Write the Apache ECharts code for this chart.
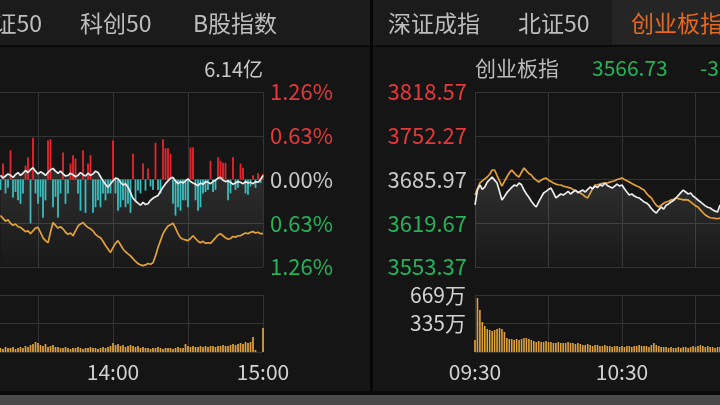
<!DOCTYPE html>
<html><head><meta charset="utf-8">
<script src="https://cdn.jsdelivr.net/npm/echarts@6/dist/echarts.min.js"></script>
<style>html,body{margin:0;padding:0;background:#151515;overflow:hidden}#c{width:720px;height:405px}</style>
</head><body><div id="c"></div>
<script>
// ---------- DATA ----------
const tabsLeft = ['上证50', '科创50', 'B股指数'];
const tabsRight = ['深证成指', '北证50', '创业板指'];
const leftTurnover = '6.14亿';
const rightName = '创业板指';
const rightPrice = '3566.73';
const rightChange = '-3.24%';
const timeTickMinutes = [0, 60, 120, 180, 240];
const timeTickLabels = ['09:30', '10:30', '11:30', '14:00', '15:00'];
const leftPctTicks = [-1.26, -0.63, 0, 0.63, 1.26];
const prevClose = 3685.97;
const rightPriceTicks = [3553.37, 3619.67, 3685.97, 3752.27, 3818.57];
const rightVolTicks = [0, 335, 669];

// left panel: minutes since 09:30 (trading minutes), starting 13:15
const leftStartMinute = 135;
const leftIndexPct = [
 0.06,0.02,0.05,0.08,0.06,0.03,0.07,0.10,0.06,0.09,
 0.13,0.10,0.14,0.17,0.12,0.08,0.11,0.09,0.06,0.10,
 0.14,0.16,0.12,0.09,0.12,0.08,0.05,0.06,0.09,0.07,
 0.04,0.06,0.10,0.07,0.05,0.09,0.06,0.08,0.12,0.10,
 0.04,-0.02,-0.07,-0.11,-0.06,-0.02,0.02,0.01,-0.04,-0.08,
 -0.06,-0.11,-0.19,-0.27,-0.31,-0.34,-0.37,-0.33,-0.36,-0.35,
 -0.30,-0.27,-0.25,-0.23,-0.17,-0.11,-0.06,-0.02,0.02,0.03,
 -0.02,-0.06,-0.03,-0.05,-0.02,0.01,-0.03,-0.05,-0.07,-0.09,
 -0.05,-0.07,-0.03,-0.04,-0.06,-0.03,-0.01,0.02,0.03,-0.01,
 -0.03,-0.02,-0.04,-0.07,-0.05,-0.03,-0.04,-0.06,-0.03,-0.05,
 -0.04,-0.06,-0.03,-0.04,0.00,0.06
];
const leftLeadPct = [
 -0.52,-0.56,-0.60,-0.58,-0.63,-0.66,-0.64,-0.68,-0.69,-0.72,
 -0.75,-0.74,-0.78,-0.74,-0.70,-0.69,-0.76,-0.84,-0.88,-0.91,
 -0.76,-0.62,-0.66,-0.70,-0.68,-0.71,-0.76,-0.79,-0.77,-0.81,
 -0.74,-0.67,-0.64,-0.62,-0.66,-0.69,-0.71,-0.74,-0.79,-0.82,
 -0.84,-0.89,-0.95,-1.00,-1.05,-0.98,-0.92,-0.88,-0.94,-1.00,
 -1.04,-1.07,-1.10,-1.14,-1.18,-1.21,-1.23,-1.24,-1.23,-1.21,
 -1.22,-1.20,-1.10,-0.98,-0.88,-0.78,-0.72,-0.67,-0.65,-0.63,
 -0.70,-0.78,-0.84,-0.86,-0.87,-0.88,-0.85,-0.81,-0.85,-0.89,
 -0.91,-0.89,-0.92,-0.91,-0.92,-0.88,-0.84,-0.80,-0.78,-0.81,
 -0.84,-0.86,-0.85,-0.82,-0.83,-0.81,-0.81,-0.79,-0.77,-0.78,
 -0.76,-0.75,-0.77,-0.76,-0.78,-0.78
];
const leftStrength = [
 -0.15,0.23,-0.20,-0.12,0.42,-0.26,-0.18,-0.30,-0.35,-0.20,
 0.20,0.32,-0.63,0.60,-0.20,-0.35,-0.25,-0.55,-0.30,0.56,
 0.58,-0.40,-0.25,-0.55,-0.20,0.39,-0.35,-0.20,0.23,0.35,
 0.30,-0.20,-0.45,0.42,-0.48,0.23,0.35,-0.48,-0.40,-0.30,
 -0.40,-0.20,-0.30,-0.20,-0.20,0.56,-0.20,-0.45,-0.40,-0.30,
 -0.40,-0.35,-0.48,0.37,-0.30,-0.16,-0.20,0.23,-0.16,0.16,
 -0.10,-0.15,0.53,-0.15,-0.20,0.58,0.45,0.45,0.37,-0.35,
 -0.52,-0.40,-0.45,-0.30,-0.30,-0.40,0.46,0.46,-0.30,-0.45,
 -0.40,-0.20,-0.18,-0.15,0.27,-0.18,-0.15,0.32,0.27,0.24,
 0.24,-0.30,-0.20,0.32,-0.15,-0.12,0.23,0.17,-0.20,-0.22,
 -0.10,0.06,-0.12,0.09,-0.05,0.08
];
const leftVolume = [
 40,30,50,40,40,50,30,40,50,40,60,50,70,80,
 100,90,
 70,60,80,50,60,70,50,
 50,40,40,50,40,30,40,40,50,40,30,40,40,50,40,40,30,40,50,40,50,60,
 90,70,80,
 60,70,50,60,70,60,50,60,
 40,50,40,40,30,40,40,50,40,30,40,40,40,30,40,50,40,40,
 80,60,
 50,60,50,50,60,50,60,50,60,60,50,60,60,70,60,60,70,
 80,70,80,90,80,100,90,100,
 150,20,0,0,240
];
const leftVolMax = 570;

// right panel: minutes since 09:30
const rightStartMinute = 0;
const rightIndex = [
 3647.4,3670.0,3677.6,3671.0,3674.6,3682.0,3686.0,3689.8,3685.0,3680.7,
 3668.0,3654.9,3660.0,3666.0,3670.0,3674.0,3677.6,3676.0,3680.7,3678.0,
 3670.0,3664.0,3659.0,3653.0,3648.0,3644.3,3652.0,3659.0,3665.5,3668.0,
 3671.0,3673.0,3666.0,3658.0,3661.0,3664.0,3662.5,3665.0,3668.0,3664.0,
 3667.0,3670.0,3666.0,3668.0,3670.0,3667.0,3671.0,3674.6,3672.0,3676.0,
 3674.0,3678.0,3676.0,3680.7,3677.0,3675.0,3673.0,3676.0,3679.0,3676.0,
 3677.6,3672.0,3667.0,3662.5,3664.0,3661.0,3659.0,3658.0,3655.0,3652.0,
 3650.4,3647.0,3642.0,3638.0,3635.2,3640.0,3644.3,3641.0,3647.0,3649.0,
 3651.9,3654.0,3658.0,3662.0,3666.0,3670.0,3667.0,3664.0,3665.5,3661.0,
 3658.0,3654.9,3652.0,3649.0,3646.0,3644.0,3642.8,3640.0,3638.0,3636.7,
 3647.4
];
const rightLead = [
 3662.5,3672.0,3680.7,3684.0,3687.0,3689.8,3694.0,3700.4,3700.4,3692.0,
 3684.0,3676.0,3683.0,3689.8,3696.0,3700.4,3696.0,3692.0,3689.8,3697.0,
 3703.4,3699.0,3695.0,3692.8,3688.0,3685.0,3682.2,3685.0,3687.0,3688.2,
 3685.0,3683.0,3680.7,3679.0,3678.0,3677.6,3676.0,3675.0,3674.0,3673.0,
 3671.0,3669.0,3667.0,3665.5,3663.0,3660.0,3658.0,3665.0,3672.0,3677.6,
 3678.0,3679.0,3680.0,3680.5,3680.7,3682.0,3683.0,3684.0,3686.0,3687.0,
 3688.2,3686.0,3684.0,3682.2,3680.0,3678.0,3676.0,3674.6,3672.0,3670.0,
 3665.0,3661.0,3658.0,3652.0,3647.0,3644.3,3647.0,3650.0,3651.9,3653.0,
 3655.0,3656.0,3658.0,3657.0,3656.0,3655.0,3655.5,3654.9,3652.0,3649.0,
 3646.0,3644.3,3640.0,3636.0,3632.2,3630.0,3628.0,3627.6,3627.0,3626.5,
 3627.6
];
const rightVolume = [
 141,634,493,352,305,270,258,247,258,270,
 282,270,235,164,153,153,141,153,141,153,
 164,164,153,141,129,117,129,117,117,129,
 117,117,106,106,117,106,106,106,117,106,
 106,94,106,94,82,82,94,82,70,82,
 82,70,70,82,70,70,59,70,70,59,
 70,59,70,70,59,70,70,82,70,70,
 70,59,82,106,82,70,59,59,59,47,
 59,47,47,59,47,59,59,47,59,70,
 59,70,82,70,59,70,59,59,47,59,
 59
];

// ---------- STYLE ----------
const FONT = '"Microsoft YaHei","Noto Sans CJK SC",sans-serif';
const RED = '#e5383b', GREEN = '#26b25a', GREY = '#c9c9c9', GRIDC = '#343434';
const BAR_RED = '#e8262e', BAR_CYAN = '#3bbcbc', WHITE = '#ececec', GOLD = '#e3a13a', VOL = '#e0a23c';

const chart = echarts.init(document.getElementById('c'), null, {renderer: 'canvas', width: 720, height: 405});

const L = arr => arr.map((v, i) => [leftStartMinute + i, v]);
const R = arr => arr.map((v, i) => [rightStartMinute + i, v]);
const RP = arr => arr.map((v, i) => [rightStartMinute + i, +(v - prevClose).toFixed(2)]);
const signColor = v => (v > 1e-6 ? RED : (v < -1e-6 ? GREEN : GREY));
const timeLabel = v => { const i = timeTickMinutes.indexOf(Math.round(v)); return i >= 0 ? timeTickLabels[i] : ''; };

const pctStep = leftPctTicks[4] / 2;
const priceStep = +(rightPriceTicks[3] - rightPriceTicks[2]).toFixed(2);

const grids = [
  {left: -337, top: 92, width: 600, height: 175},
  {left: -337, top: 295, width: 600, height: 57},
  {left: 475, top: 92, width: 588, height: 175},
  {left: 475, top: 295, width: 588, height: 57}
].map(g => Object.assign({show: false, containLabel: false, outerBoundsMode: 'none'}, g));

function xAx(gi, showLabel) {
  return {
    type: 'value', gridIndex: gi, min: 0, max: 240, interval: 30,
    axisLine: {show: false}, axisTick: {show: false},
    splitLine: {show: true, lineStyle: {color: GRIDC, width: 1}},
    axisLabel: {show: showLabel, formatter: timeLabel, color: '#d2d2d2', fontSize: 21, fontFamily: FONT, margin: 10}
  };
}
const lbl = extra => Object.assign({fontSize: 22, fontFamily: FONT}, extra);

const areaGrad = new echarts.graphic.LinearGradient(0, 0, 0, 1, [
  {offset: 0, color: 'rgba(255,255,255,0.16)'},
  {offset: 1, color: 'rgba(255,255,255,0.02)'}
]);

const option = {
  animation: false,
  backgroundColor: '#151515',
  grid: grids,
  xAxis: [xAx(0, false), xAx(1, true), xAx(2, false), xAx(3, true)],
  yAxis: [
    {type: 'value', gridIndex: 0, position: 'right', min: leftPctTicks[0], max: leftPctTicks[4], interval: pctStep,
     axisLine: {show: false}, axisTick: {show: false},
     splitLine: {lineStyle: {color: GRIDC}},
     axisLabel: lbl({margin: 7, formatter: v => Math.abs(v).toFixed(2) + '%', color: v => signColor(+v)})},
    {type: 'value', gridIndex: 1, position: 'right', min: 0, max: leftVolMax, interval: leftVolMax / 2,
     axisLine: {show: false}, axisTick: {show: false},
     splitLine: {lineStyle: {color: GRIDC}}, axisLabel: {show: false}},
    {type: 'value', gridIndex: 2, position: 'left', min: -2 * priceStep, max: 2 * priceStep, interval: priceStep,
     axisLine: {show: false}, axisTick: {show: false},
     splitLine: {lineStyle: {color: GRIDC}},
     axisLabel: lbl({margin: 8, formatter: v => (prevClose + v).toFixed(2), color: v => signColor(+v)})},
    {type: 'value', gridIndex: 3, position: 'left', min: 0, max: rightVolTicks[2], interval: rightVolTicks[2] / 2,
     axisLine: {show: false}, axisTick: {show: false},
     splitLine: {lineStyle: {color: GRIDC}},
     axisLabel: lbl({margin: 9, color: '#d2d2d2', fontSize: 21,
       formatter: v => (v < 1 ? '' : Math.round(v) + '万')})}
  ],
  series: [
    {type: 'line', xAxisIndex: 0, yAxisIndex: 0, data: L(leftIndexPct), symbol: 'none', silent: true,
     lineStyle: {width: 0, opacity: 0}, areaStyle: {origin: 'start', color: areaGrad}, z: 1},
    {type: 'bar', xAxisIndex: 0, yAxisIndex: 0, data: L(leftStrength), barWidth: 1.8, silent: true,
     itemStyle: {color: p => (p.value[1] >= 0 ? BAR_RED : BAR_CYAN)}, z: 2},
    {type: 'line', xAxisIndex: 0, yAxisIndex: 0, data: L(leftLeadPct), symbol: 'none', silent: true,
     lineStyle: {width: 1.7, color: GOLD}, z: 3},
    {type: 'line', xAxisIndex: 0, yAxisIndex: 0, data: L(leftIndexPct), symbol: 'none', silent: true,
     lineStyle: {width: 1.7, color: WHITE}, z: 4},
    {type: 'bar', xAxisIndex: 1, yAxisIndex: 1, data: L(leftVolume), barWidth: 1.7, silent: true,
     itemStyle: {color: VOL}},
    {type: 'line', xAxisIndex: 2, yAxisIndex: 2, data: RP(rightIndex), symbol: 'none', silent: true,
     lineStyle: {width: 0, opacity: 0}, areaStyle: {origin: 'start', color: areaGrad}, z: 1},
    {type: 'line', xAxisIndex: 2, yAxisIndex: 2, data: RP(rightLead), symbol: 'none', silent: true,
     lineStyle: {width: 1.7, color: GOLD}, z: 3},
    {type: 'line', xAxisIndex: 2, yAxisIndex: 2, data: RP(rightIndex), symbol: 'none', silent: true,
     lineStyle: {width: 1.7, color: WHITE}, z: 4},
    {type: 'bar', xAxisIndex: 3, yAxisIndex: 3, data: R(rightVolume), barWidth: 1.6, silent: true,
     itemStyle: {color: VOL}}
  ],
  graphic: {elements: [
    {type: 'rect', z: -10, silent: true, shape: {x: 0, y: 0, width: 720, height: 46}, style: {fill: '#1b1b1b'}},
    {type: 'rect', z: -9, silent: true, shape: {x: 612, y: 0, width: 108, height: 44}, style: {fill: '#252525'}},
    {type: 'rect', z: -9, silent: true, shape: {x: 0, y: 45, width: 720, height: 2}, style: {fill: '#0b0b0b'}},
    {type: 'rect', z: -9, silent: true, shape: {x: 370, y: 0, width: 3, height: 393}, style: {fill: '#060606'}},
    {type: 'rect', z: -9, silent: true, shape: {x: 0, y: 391, width: 720, height: 4}, style: {fill: '#0a0a0a'}},
    {type: 'rect', z: -9, silent: true, shape: {x: 0, y: 395, width: 720, height: 10}, style: {fill: '#4a4a4a'}},
    {type: 'text', silent: true, style: {text: tabsLeft[0], x: 42, y: 23, textAlign: 'right', textVerticalAlign: 'middle', fill: '#bdbdbd', font: '23px ' + FONT}},
    {type: 'text', silent: true, style: {text: tabsLeft[1], x: 80, y: 23, textAlign: 'left', textVerticalAlign: 'middle', fill: '#bdbdbd', font: '23px ' + FONT}},
    {type: 'text', silent: true, style: {text: tabsLeft[2], x: 193, y: 23, textAlign: 'left', textVerticalAlign: 'middle', fill: '#bdbdbd', font: '23px ' + FONT}},
    {type: 'text', silent: true, style: {text: tabsRight[0], x: 388, y: 23, textAlign: 'left', textVerticalAlign: 'middle', fill: '#bdbdbd', font: '23px ' + FONT}},
    {type: 'text', silent: true, style: {text: tabsRight[1], x: 518, y: 23, textAlign: 'left', textVerticalAlign: 'middle', fill: '#bdbdbd', font: '23px ' + FONT}},
    {type: 'text', silent: true, style: {text: tabsRight[2], x: 631, y: 23, textAlign: 'left', textVerticalAlign: 'middle', fill: '#e8681f', font: '23px ' + FONT}},
    {type: 'text', silent: true, style: {text: leftTurnover, x: 263, y: 69, textAlign: 'right', textVerticalAlign: 'middle', fill: '#c8c8c8', font: '20px ' + FONT}},
    {type: 'text', silent: true, style: {text: rightName, x: 475, y: 68, textAlign: 'left', textVerticalAlign: 'middle', fill: '#bbbbbb', font: '21px ' + FONT}},
    {type: 'text', silent: true, style: {text: rightPrice, x: 592, y: 68, textAlign: 'left', textVerticalAlign: 'middle', fill: GREEN, font: '21px ' + FONT}},
    {type: 'text', silent: true, style: {text: rightChange, x: 700, y: 68, textAlign: 'left', textVerticalAlign: 'middle', fill: GREEN, font: '21px ' + FONT}}
  ]}
};
chart.setOption(option);
</script>
</body></html>
